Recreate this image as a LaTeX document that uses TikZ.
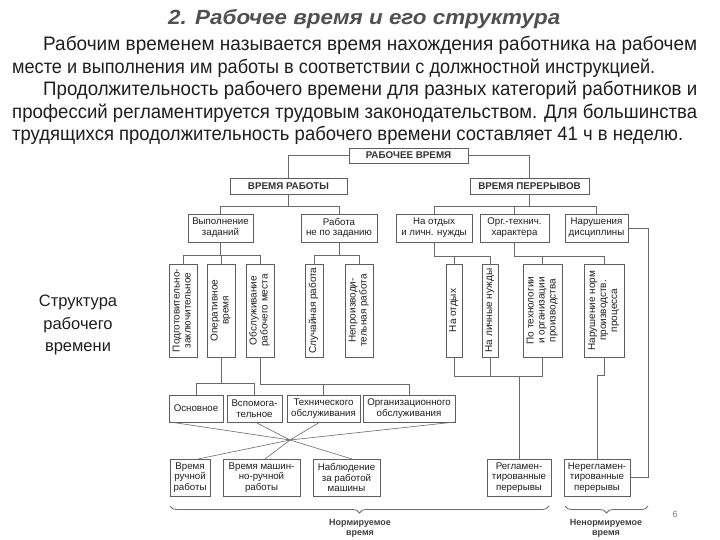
\documentclass[tikz,border=0pt]{standalone}
\usepackage{fontspec}
\usepackage{graphicx}
\usetikzlibrary{decorations.pathreplacing,calc}
\setmainfont{Liberation Sans}
\newfontfamily\bodyfont{Liberation Sans}
\definecolor{ln}{HTML}{6A6A6A}
\definecolor{bd}{HTML}{5E5E5E}
\definecolor{tx}{HTML}{1E1E1E}
\definecolor{ttl}{HTML}{505050}
\newsavebox\linebox
\newcommand\jline[2]{\sbox\linebox{#2}\ifdim\wd\linebox>#1\relax\resizebox{#1}{\height}{\usebox\linebox}\else\makebox[#1][s]{#2}\fi}
\newcommand\fitline[2]{\sbox\linebox{#2}\resizebox{#1}{\height}{\usebox\linebox}}
\newcommand\vt[1]{\rotatebox{90}{\fontsize{10}{11}\selectfont\begin{tabular}{@{}c@{}}#1\end{tabular}}}
\tikzset{
  box/.style={draw=bd, line width=0.8pt, fill=white, inner sep=1pt, align=center,
    text=tx, font=\fontsize{9.7}{10.8}\selectfont},
  hdr/.style={box, font=\fontsize{9.8}{11}\selectfont\bfseries, text=black!80},
  conn/.style={draw=ln, line width=0.8pt},
  bodyline/.style={anchor=base west, inner sep=0pt, text=tx},
  lbl/.style={align=center, inner sep=0pt, text=black!75, font=\fontsize{9}{10}\selectfont\bfseries},
}
\begin{document}
\begin{tikzpicture}[x=1pt,y=-1pt]
\useasboundingbox (0,0) rectangle (720,540);
\fill[white] (0,0) rectangle (720,540);

% title and text
\node[bodyline, text=ttl] (title) at (168,25) {\fitline{392pt}{\bodyfont\fontsize{20.5}{24}\selectfont\bfseries\itshape 2. Рабочее время и его структура}};
\node[bodyline] (l1) at (43,51) {\jline{654pt}{\bodyfont\fontsize{19.5}{22}\selectfont Рабочим временем называется время нахождения работника на рабочем}};
\node[bodyline] (l2) at (12,73.5) {\jline{643pt}{\bodyfont\fontsize{19.5}{22}\selectfont месте и выполнения им работы в соответствии с должностной инструкцией.}};
\node[bodyline] (l3) at (43,96) {\jline{654pt}{\bodyfont\fontsize{19.5}{22}\selectfont Продолжительность рабочего времени для разных категорий работников и}};
\node[bodyline] (l4) at (12,118.5) {\jline{685pt}{\bodyfont\fontsize{19.5}{22}\selectfont профессий регламентируется трудовым законодательством. Для большинства}};
\node[bodyline] (l5) at (12,141) {\jline{671pt}{\bodyfont\fontsize{19.5}{22}\selectfont трудящихся продолжительность рабочего времени составляет 41 ч в неделю.}};

\node[align=center, text=tx, font=\fontsize{16.5}{22.5}\selectfont] (cap) at (78,325) {Структура\\рабочего\\времени};

% row 1-2
\node[hdr, minimum width=119pt, minimum height=15pt] (top) at (408.5,155.5) {РАБОЧЕЕ ВРЕМЯ};
\node[hdr, minimum width=117pt, minimum height=16pt] (w) at (288.5,186) {ВРЕМЯ РАБОТЫ};
\node[hdr, minimum width=119pt, minimum height=16pt] (p) at (529.5,186) {ВРЕМЯ ПЕРЕРЫВОВ};

% row 3
\node[box, minimum width=65pt, minimum height=28pt] (a1) at (220.5,228) {Выполнение\\заданий};
\node[box, minimum width=76pt, minimum height=28pt] (a2) at (339,228) {Работа\\не по заданию};
\node[box, minimum width=76pt, minimum height=28pt] (b1) at (434,228) {На отдых\\и личн. нужды};
\node[box, minimum width=69pt, minimum height=28pt] (b2) at (514.5,228) {Орг.-технич.\\характера};
\node[box, minimum width=63pt, minimum height=28pt] (b3) at (596.5,228) {Нарушения\\дисциплины};

% row 4 (vertical)
\node[box, minimum width=28pt, minimum height=93pt] (v1) at (183,310.5) {\vt{Подготовительно-\\заключительное}};
\node[box, minimum width=28pt, minimum height=93pt] (v2) at (221,310.5) {\vt{Оперативное\\время}};
\node[box, minimum width=28pt, minimum height=93pt] (v3) at (260,310.5) {\vt{Обслуживание\\рабочего места}};
\node[box, minimum width=18pt, minimum height=93pt] (v4) at (314,310.5) {\vt{Случайная работа}};
\node[box, minimum width=28pt, minimum height=93pt] (v5) at (359,310.5) {\vt{Непроизводи-\\тельная работа}};
\node[box, minimum width=16pt, minimum height=93pt] (v6) at (454,310.5) {\vt{На отдых}};
\node[box, minimum width=16pt, minimum height=93pt] (v7) at (490,310.5) {\vt{На личные нужды}};
\node[box, minimum width=39pt, minimum height=93pt] (v8) at (542.5,310.5) {\vt{По технологии\\и организации\\производства}};
\node[box, minimum width=40pt, minimum height=93pt] (v9) at (604,310.5) {\vt{Нарушение норм\\производств.\\процесса}};

% row 5
\node[box, minimum width=54pt, minimum height=27pt] (r1) at (196,408.5) {Основное};
\node[box, minimum width=55pt, minimum height=27pt] (r2) at (254.5,408.5) {Вспомога-\\тельное};
\node[box, minimum width=73pt, minimum height=27pt] (r3) at (323.5,408.5) {Технического\\обслуживания};
\node[box, minimum width=92pt, minimum height=27pt] (r4) at (409,408.5) {Организационного\\обслуживания};

% row 6
\node[box, minimum width=40pt, minimum height=37pt] (s1) at (190,477.5) {Время\\ручной\\работы};
\node[box, minimum width=77pt, minimum height=37pt] (s2) at (261.5,477.5) {Время машин-\\но-ручной\\работы};
\node[box, minimum width=67pt, minimum height=37pt] (s3) at (346.5,477.5) {Наблюдение\\за работой\\машины};
\node[box, minimum width=64pt, minimum height=37pt] (s4) at (519,477.5) {Регламен-\\тированные\\перерывы};
\node[box, minimum width=66pt, minimum height=37pt] (s5) at (597,477.5) {Нерегламен-\\тированные\\перерывы};

% connectors top
\draw[conn] (top.west) -| (w.north);
\draw[conn] (top.east) -| (p.north);
\draw[conn] (w.south) -- ++(0,13);
\draw[conn] (a1.north) -- ++(0,-7) -| (a2.north);
\draw[conn] (p.south) -- ++(0,13);
\draw[conn] (b1.north) -- ++(0,-7) -| (b3.north);
\draw[conn] (b2.north) -- ++(0,-7);

% row 3 -> row 4
\draw[conn] (a1.south) -- ++(0,14);
\draw[conn] (v1.north) -- ++(0,-8) -| (v3.north);
\draw[conn] (v2.north) -- ++(0,-8);
\draw[conn] (a2.south) -- ++(0,14);
\draw[conn] (v4.north) -- ++(0,-8) -| (v5.north);
\draw[conn] (b1.south) -- ++(0,14) -| (v7.north);
\draw[conn] (v6.north) -- ++(0,-8);
\draw[conn] (b2.south) -- ++(0,14) -| (v9.north);
\draw[conn] (v8.north) -- ++(0,-8);

% discipline -> unregulated
\coordinate (rr) at (648,228);
\draw[conn] (b3.east) -- (rr) |- (s5.east);

% row 4 -> row 5
\draw[conn] (v2.south) -- ++(0,27);
\draw[conn] (r1.north) -- ++(0,-11) -| (r2.north);
\draw[conn] (v3.south) -- ++(0,27) -| (r4.north);
\draw[conn] (r3.north) -- ++(0,-11);

% right row 4 -> row 6
\draw[conn] (v6.south) -- ++(0,19) coordinate (jr) -| (v8.south);
\draw[conn] (v7.south) -- ++(0,19);
\draw[conn] (s4.north) -- (s4.north |- jr);
\draw[conn] (v9.south) -- ++(0,18) -| (s5.north);

% crossing lines
\coordinate (X) at (290,440);
\coordinate (u1) at (170,422);
\coordinate (u2) at (255,422);
\coordinate (u3) at (320,422);
\coordinate (u4) at (455,422);
\coordinate (d1) at (198,459);
\coordinate (d2) at (265,459);
\coordinate (d3) at (352,459);
\draw[conn, line width=0.6pt] (u1) -- (X) (u2) -- (X) (u3) -- (X) (u4) -- (X);
\draw[conn, line width=0.6pt] (X) -- (d1) (X) -- (d2) (X) -- (d3);

% braces
\draw[conn, decorate, decoration={brace, mirror, amplitude=7pt}] (170,506) -- (549,506);
\draw[conn, decorate, decoration={brace, mirror, amplitude=7pt}] (565,506) -- (648,506);
\node[lbl] (n1) at (360,528) {Нормируемое\\время};
\node[lbl] (n2) at (606,528) {Ненормируемое\\время};

\node[text=black!50, font=\fontsize{9}{10}\selectfont] (pg) at (675,514) {6};
\end{tikzpicture}
\end{document}
